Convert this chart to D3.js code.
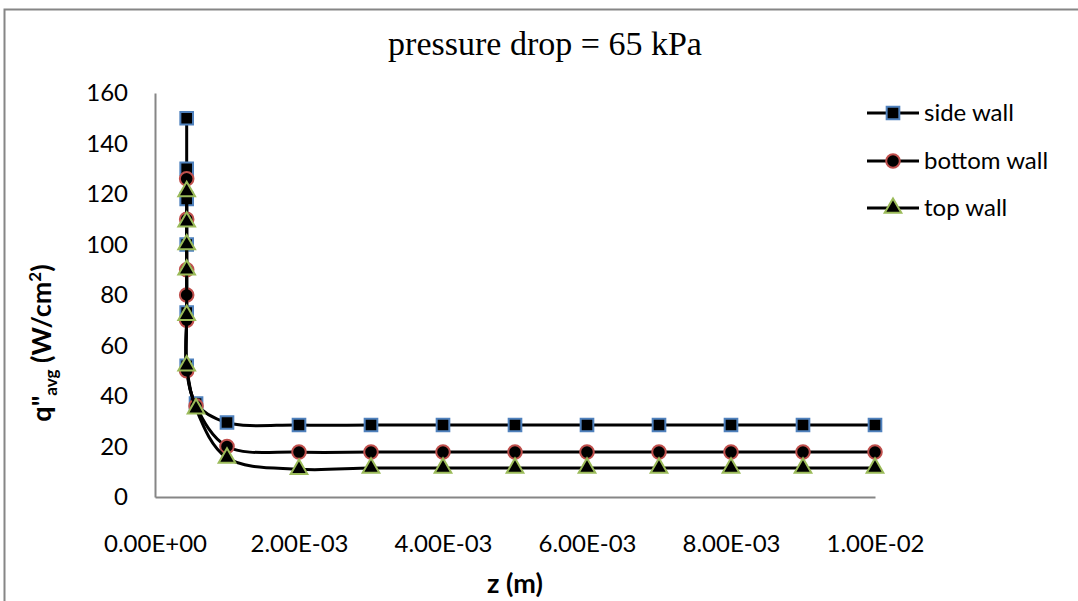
<!DOCTYPE html>
<html>
<head>
<meta charset="utf-8">
<script src="https://cdn.jsdelivr.net/npm/d3@7/dist/d3.min.js"></script>
<style>
  html, body { margin: 0; padding: 0; background: #fff; }
  svg { display: block; }
  text { font-family: Lato, "Open Sans", sans-serif; fill: #000; }
</style>
</head>
<body>
<svg id="chart" width="1078" height="601"></svg>
<script>
// Average heat flux along the channel, pressure drop 65 kPa
const seriesNames = ["side wall", "bottom wall", "top wall"];

const zSide   = [0.00044, 0.00044, 0.00044, 0.00044, 0.00044, 0.00044, 0.00057, 0.001, 0.002, 0.003, 0.004, 0.005, 0.006, 0.007, 0.008, 0.009, 0.010];
const qSide   = [150, 130, 118, 100, 73, 52, 37, 29.5, 28.5, 28.5, 28.5, 28.5, 28.5, 28.5, 28.5, 28.5, 28.5];

const zBottom = [0.00044, 0.00044, 0.00044, 0.00044, 0.00044, 0.00044, 0.00057, 0.001, 0.002, 0.003, 0.004, 0.005, 0.006, 0.007, 0.008, 0.009, 0.010];
const qBottom = [126, 110, 90, 80, 70, 50, 36, 20, 17.8, 17.8, 17.8, 17.8, 17.8, 17.8, 17.8, 17.8, 17.8];

const zTop    = [0.00044, 0.00044, 0.00044, 0.00044, 0.00044, 0.00044, 0.00057, 0.001, 0.002, 0.003, 0.004, 0.005, 0.006, 0.007, 0.008, 0.009, 0.010];
const qTop    = [121, 109, 100, 90, 72, 52, 35, 15.5, 11, 11.5, 11.5, 11.5, 11.5, 11.5, 11.5, 11.5, 11.5];

const xTicks = [0, 0.002, 0.004, 0.006, 0.008, 0.010];
const xTickLabels = ["0.00E+00", "2.00E-03", "4.00E-03", "6.00E-03", "8.00E-03", "1.00E-02"];
const yTicks = [0, 20, 40, 60, 80, 100, 120, 140, 160];

const svg = d3.select("#chart");
const axisGray = "#868686";

const plot = { left: 155, right: 875, top: 93, bottom: 497 };

const x = d3.scaleLinear().domain([0, 0.010]).range([plot.left, plot.right]);
const y = d3.scaleLinear().domain([0, 160]).range([plot.bottom, plot.top]);

// chart frame
svg.append("rect")
  .attr("x", 4.5).attr("y", 9.5)
  .attr("width", 1090).attr("height", 620)
  .attr("fill", "none").attr("stroke", axisGray).attr("stroke-width", 2);

// title
svg.append("text")
  .attr("x", 545).attr("y", 55)
  .attr("text-anchor", "middle")
  .style("font-family", "'Liberation Serif', 'Times New Roman', serif")
  .style("font-size", "34px")
  .text("pressure drop = 65 kPa");

// axes
const xAxis = d3.axisBottom(x).tickValues(xTicks)
  .tickFormat((d, i) => xTickLabels[i]).tickSize(0).tickPadding(38);
const gx = svg.append("g").attr("transform", `translate(0,${plot.bottom})`).call(xAxis);
gx.select(".domain").attr("stroke", axisGray).attr("stroke-width", 2);
gx.selectAll("text").style("font-size", "24px").style("font-family", "Lato, sans-serif");

const yAxis = d3.axisLeft(y).tickValues(yTicks).tickSize(0).tickPadding(27);
const gy = svg.append("g").attr("transform", `translate(${plot.left},0)`).call(yAxis);
gy.select(".domain").attr("stroke", axisGray).attr("stroke-width", 2);
gy.selectAll("text").style("font-size", "24px").style("font-family", "Lato, sans-serif");

// axis titles
svg.append("text")
  .attr("x", (plot.left + plot.right) / 2).attr("y", 593)
  .attr("text-anchor", "middle")
  .style("font-weight", "bold").style("font-size", "27px")
  .text("z (m)");

const yTitle = svg.append("text")
  .attr("transform", "translate(51,343) rotate(-90)")
  .attr("text-anchor", "middle")
  .style("font-weight", "bold").style("font-size", "27px");
yTitle.append("tspan").text("q\"");
yTitle.append("tspan").attr("dy", 6).style("font-size", "17px").text("avg");
yTitle.append("tspan").attr("dy", -6).text(" (W/cm");
yTitle.append("tspan").attr("dy", -10).style("font-size", "17px").text("2");
yTitle.append("tspan").attr("dy", 10).text(")");

// series
const series = [
  { name: seriesNames[0], z: zSide,   q: qSide,   stroke: "#4F81BD", shape: "square" },
  { name: seriesNames[1], z: zBottom, q: qBottom, stroke: "#C0504D", shape: "circle" },
  { name: seriesNames[2], z: zTop,    q: qTop,    stroke: "#9BBB59", shape: "triangle" }
];

const line = d3.line()
  .x(d => x(d[0])).y(d => y(d[1]))
  .curve(d3.curveCatmullRom.alpha(0.5));

function symbolPath(shape) {
  if (shape === "square") return d3.symbol().type(d3.symbolSquare).size(160)();
  if (shape === "circle") return d3.symbol().type(d3.symbolCircle).size(145)();
  return d3.symbol().type(d3.symbolTriangle).size(120)();
}

series.forEach(s => {
  const pts = s.z.map((z, i) => [z, s.q[i]]);
  svg.append("path")
    .attr("d", line(pts))
    .attr("fill", "none").attr("stroke", "#000").attr("stroke-width", 3)
    .attr("stroke-linejoin", "round");
  svg.append("g").selectAll("path").data(pts).join("path")
    .attr("transform", d => `translate(${x(d[0])},${y(d[1])})`)
    .attr("d", symbolPath(s.shape))
    .attr("fill", "#000").attr("stroke", s.stroke).attr("stroke-width", 2);
});

// legend
const legendY = [113, 161, 208];
const lg = svg.append("g");
series.forEach((s, i) => {
  const g = lg.append("g").attr("transform", `translate(0,${legendY[i]})`);
  g.append("line").attr("x1", 867).attr("x2", 919).attr("y1", 0).attr("y2", 0)
    .attr("stroke", "#000").attr("stroke-width", 3);
  g.append("path").attr("transform", "translate(893,0)")
    .attr("d", symbolPath(s.shape))
    .attr("fill", "#000").attr("stroke", s.stroke).attr("stroke-width", 2);
  g.append("text").attr("x", 924).attr("y", 0).attr("dy", "0.35em")
    .style("font-size", "24px").text(s.name);
});
</script>
</body>
</html>
